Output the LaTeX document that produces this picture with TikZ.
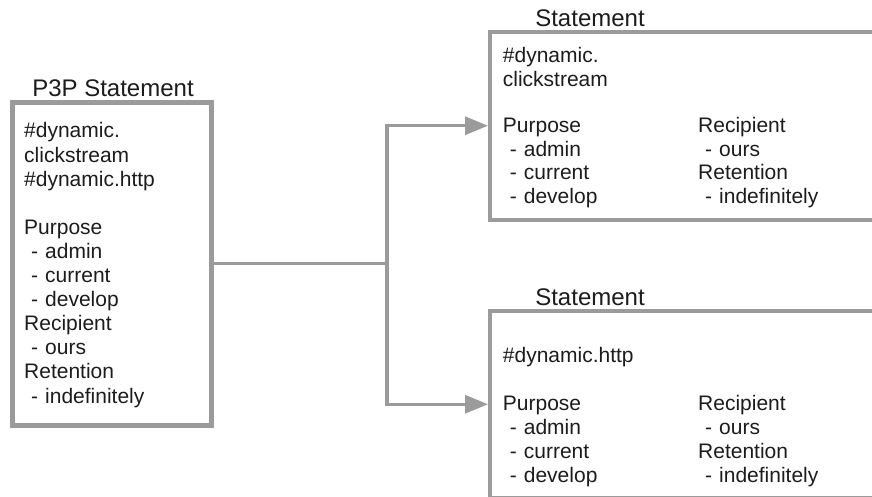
\documentclass[tikz,border=0pt]{standalone}
\usepackage{fontspec}
\setmainfont{Liberation Sans}
\usetikzlibrary{arrows.meta}
\definecolor{edgegray}{HTML}{9B9B9B}
\definecolor{inkdark}{HTML}{1C1C1C}
% one indented " - item" line inside a statement box
\newcommand{\dashitem}[1]{\mbox{}\ - #1}
\begin{document}
\begin{tikzpicture}[x=1pt,y=-1pt,
  box/.style={draw=edgegray, rectangle, inner sep=0pt, anchor=north west},
  heading/.style={font=\fontsize{24}{28}\selectfont, text=inkdark, anchor=base, inner sep=0pt},
  body/.style={text=inkdark, anchor=base west, align=left, inner sep=0pt, text width=190pt},
  link/.style={draw=edgegray, line width=3.3pt},
  tip/.style={-{Triangle[length=23pt,width=18pt]}}
]
\useasboundingbox (0,0) rectangle (872,497);
\clip (0,0) rectangle (872,497);

% aggregated statement on the left
\node[box, line width=5pt, minimum width=199pt, minimum height=322.5pt] (p3p) at (10,100) {};
\node[heading] (p3ptitle) at (113,96.7) {P3P Statement};
\node[body, font=\fontsize{21}{24.1}\selectfont] (p3ptext) at (24,138)
  {\#dynamic.\\clickstream\\\#dynamic.http\\[24.1pt]Purpose\\\dashitem{admin}\\\dashitem{current}\\\dashitem{develop}\\Recipient\\\dashitem{ours}\\Retention\\\dashitem{indefinitely}};

% first split statement
\node[box, line width=4pt, minimum width=410pt, minimum height=187.5pt] (stA) at (488,30) {};
\node[heading] (stAtitle) at (590,26.7) {Statement};
\node[body, font=\fontsize{21}{23.4}\selectfont] (stAdata) at (502.7,63)
  {\#dynamic.\\clickstream};
\node[body, font=\fontsize{21}{23.4}\selectfont] (stApurpose) at (502.7,133)
  {Purpose\\\dashitem{admin}\\\dashitem{current}\\\dashitem{develop}};
\node[body, font=\fontsize{21}{23.4}\selectfont] (stArecip) at (698,133)
  {Recipient\\\dashitem{ours}\\Retention\\\dashitem{indefinitely}};

% second split statement
\node[box, line width=4pt, minimum width=410pt, minimum height=186.5pt] (stB) at (488,309) {};
\node[heading] (stBtitle) at (590,305) {Statement};
\node[body, font=\fontsize{21}{24}\selectfont] (stBdata) at (502.7,362)
  {\#dynamic.http};
\node[body, font=\fontsize{21}{24}\selectfont] (stBpurpose) at (502.7,410)
  {Purpose\\\dashitem{admin}\\\dashitem{current}\\\dashitem{develop}};
\node[body, font=\fontsize{21}{24}\selectfont] (stBrecip) at (698,410)
  {Recipient\\\dashitem{ours}\\Retention\\\dashitem{indefinitely}};

% splitting connectors
\coordinate (split) at (387, 263.75);
\draw[link] (p3p.east) -- (split);
\draw[link, tip] (split) |- (stA.west);
\draw[link, tip] (split) |- (stB.west);
\end{tikzpicture}
\end{document}
